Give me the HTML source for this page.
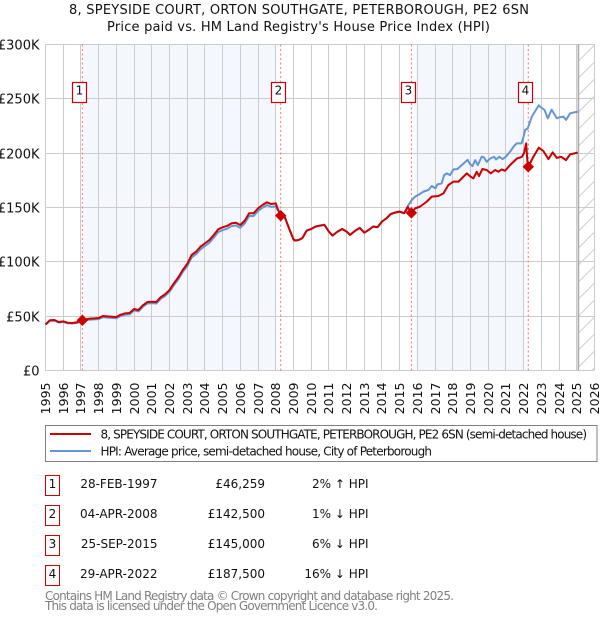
<!DOCTYPE html>
<html lang="en">
<head>
<meta charset="utf-8">
<title>Price paid vs. HPI</title>
<style>
html,body{margin:0;padding:0;background:#fff;width:600px;height:620px;overflow:hidden}
svg{display:block}
text{font-family:"DejaVu Sans","Liberation Sans",sans-serif;fill:#111}
</style>
</head>
<body>
<svg id="chart" xmlns="http://www.w3.org/2000/svg" width="600" height="620" viewBox="0 0 600 620">
<defs>
<pattern id="hatch" patternUnits="userSpaceOnUse" width="17" height="17" x="578" y="44.5">
<path d="M-2 19 L19 -2" stroke="#d0d0d0" stroke-width="1" fill="none"/>
</pattern>
</defs>
<text x="299" y="14" text-anchor="middle" font-size="13" textLength="460" lengthAdjust="spacing">8, SPEYSIDE COURT, ORTON SOUTHGATE, PETERBOROUGH, PE2 6SN</text>
<text x="298.5" y="31" text-anchor="middle" font-size="13" textLength="383" lengthAdjust="spacing">Price paid vs. HM Land Registry's House Price Index (HPI)</text>
<g id="plot"></g>
<g>
<rect x="45.5" y="425.5" width="551.5" height="36" fill="#fff" stroke="#808080" stroke-width="1"/>
<line x1="50" x2="91" y1="434" y2="434" stroke="#cc0000" stroke-width="2"/>
<text x="100.5" y="438.5" font-size="12" textLength="486.5" lengthAdjust="spacing">8, SPEYSIDE COURT, ORTON SOUTHGATE, PETERBOROUGH, PE2 6SN (semi-detached house)</text>
<line x1="50" x2="91" y1="451" y2="451" stroke="#6495d5" stroke-width="2"/>
<text x="100.5" y="455.5" font-size="12" textLength="331.5" lengthAdjust="spacing">HPI: Average price, semi-detached house, City of Peterborough</text>
</g>
<g font-size="12">
<g>
<rect x="45.5" y="475.5" width="14" height="20" fill="#fff" stroke="#cc0000"/>
<text x="52.5" y="488" text-anchor="middle">1</text>
<text x="157.5" y="488" text-anchor="end">28-FEB-1997</text>
<text x="265" y="488" text-anchor="end">£46,259</text>
<text x="368.5" y="488" text-anchor="end">2% ↑ HPI</text>
</g>
<g>
<rect x="45.5" y="505.5" width="14" height="20" fill="#fff" stroke="#cc0000"/>
<text x="52.5" y="518" text-anchor="middle">2</text>
<text x="157.5" y="518" text-anchor="end">04-APR-2008</text>
<text x="265" y="518" text-anchor="end">£142,500</text>
<text x="368.5" y="518" text-anchor="end">1% ↓ HPI</text>
</g>
<g>
<rect x="45.5" y="535.5" width="14" height="20" fill="#fff" stroke="#cc0000"/>
<text x="52.5" y="548" text-anchor="middle">3</text>
<text x="157.5" y="548" text-anchor="end">25-SEP-2015</text>
<text x="265" y="548" text-anchor="end">£145,000</text>
<text x="368.5" y="548" text-anchor="end">6% ↓ HPI</text>
</g>
<g>
<rect x="45.5" y="565.5" width="14" height="20" fill="#fff" stroke="#cc0000"/>
<text x="52.5" y="578" text-anchor="middle">4</text>
<text x="157.5" y="578" text-anchor="end">29-APR-2022</text>
<text x="265" y="578" text-anchor="end">£187,500</text>
<text x="368.5" y="578" text-anchor="end">16% ↓ HPI</text>
</g>
</g>
<text x="45" y="600" font-size="12" style="fill:#808080" textLength="409" lengthAdjust="spacing">Contains HM Land Registry data © Crown copyright and database right 2025.</text>
<text x="45" y="610" font-size="12" style="fill:#808080" textLength="333" lengthAdjust="spacing">This data is licensed under the Open Government Licence v3.0.</text>
</svg>
<script>
const yearTicks = [1995,1996,1997,1998,1999,2000,2001,2002,2003,2004,2005,2006,2007,2008,2009,2010,2011,2012,2013,2014,2015,2016,2017,2018,2019,2020,2021,2022,2023,2024,2025,2026];
const valueTicks = [0,50,100,150,200,250,300];
const valueTickLabels = ['£0','£50K','£100K','£150K','£200K','£250K','£300K'];
const saleYears = [1997.08,2008.28,2015.66,2022.26];
const salePrices = [46.259,142.5,145,187.5];
const saleLabels = ['1','2','3','4'];
const shadedSpans = [[1997.08,2008],[2016,2022]];
const paleSpans = [[2008,2008.28],[2015.66,2016],[2022,2022.26]];
const dataEndYear = 2025.09;
const priceYears = [1995,1995.25,1995.5,1995.75,1996,1996.25,1996.5,1996.75,1997.08,1997.25,1997.5,1997.75,1998,1998.25,1998.5,1998.75,1999,1999.25,1999.5,1999.75,2000,2000.25,2000.5,2000.75,2001,2001.25,2001.5,2001.75,2002,2002.25,2002.5,2002.75,2003,2003.25,2003.5,2003.75,2004,2004.25,2004.5,2004.75,2005,2005.25,2005.5,2005.75,2006,2006.25,2006.5,2006.75,2007,2007.25,2007.5,2007.75,2008,2008.1,2008.28,2008.5,2008.75,2009,2009.1,2009.3,2009.5,2009.75,2010,2010.25,2010.5,2010.75,2011,2011.2,2011.5,2011.75,2012,2012.2,2012.5,2012.75,2013,2013.25,2013.5,2013.75,2014,2014.25,2014.5,2014.75,2015,2015.25,2015.45,2015.66,2015.87,2016.15,2016.53,2016.81,2017.19,2017.47,2017.75,2018.03,2018.32,2018.79,2019.01,2019.16,2019.35,2019.48,2019.67,2019.91,2020.14,2020.39,2020.57,2020.76,2020.95,2021.23,2021.61,2021.89,2022.02,2022.14,2022.21,2022.26,2022.55,2022.85,2023.11,2023.4,2023.64,2023.87,2024.11,2024.39,2024.62,2025.05];
const priceValues = [42.5,46.2,46.5,44.6,45.2,44,43.7,44.3,46.26,47.1,47.7,48,48.3,50.2,49.8,49.5,49.2,51.4,52.6,52.9,56.6,55.7,60,63,63.3,63,67.3,70.1,74,80.2,85.7,92.5,98,106.3,109.3,113.9,117,120,124.7,129.9,131.8,133,135.4,136,133.9,137.9,144.7,144.7,149.2,152.3,154.8,153.2,153.8,149.2,142.5,141.6,130.8,120.7,119.5,120.1,121.7,128.7,130.2,132.4,133.3,133.9,127.8,124.1,127.8,130.2,127.8,124.7,128.7,131.1,126.8,129.3,132.4,131.8,137,140,144,145.3,146.2,144.7,150.6,145,149.2,150.8,155.4,160,160.6,163,170.7,173.8,173.8,181.4,178.3,176.8,182.9,178.9,185.4,184.5,181.4,184.5,182.9,185,183.8,189,195,196.5,200,209,193,187.5,196.7,205,202,194.6,200.8,195.6,196.7,193.6,198.9,200.5];
const hpiYears = [1995,1995.25,1995.5,1995.75,1996,1996.25,1996.5,1996.75,1997.08,1997.25,1997.5,1997.75,1998,1998.25,1998.5,1998.75,1999,1999.25,1999.5,1999.75,2000,2000.25,2000.5,2000.75,2001,2001.25,2001.5,2001.75,2002,2002.25,2002.5,2002.75,2003,2003.25,2003.5,2003.75,2004,2004.25,2004.5,2004.75,2005,2005.25,2005.5,2005.75,2006,2006.25,2006.5,2006.75,2007,2007.25,2007.5,2007.75,2008,2008.1,2008.28,2008.5,2008.75,2009,2009.1,2009.3,2009.5,2009.75,2010,2010.25,2010.5,2010.75,2011,2011.2,2011.5,2011.75,2012,2012.2,2012.5,2012.75,2013,2013.25,2013.5,2013.75,2014,2014.25,2014.5,2014.75,2015,2015.25,2015.36,2015.49,2015.72,2015.87,2016.11,2016.34,2016.62,2016.81,2017.02,2017.13,2017.37,2017.51,2017.66,2017.84,2018.03,2018.26,2018.5,2018.84,2018.97,2019.11,2019.26,2019.41,2019.63,2019.76,2019.91,2020.1,2020.33,2020.44,2020.63,2020.8,2020.99,2021.23,2021.46,2021.61,2021.89,2021.99,2022.08,2022.23,2022.46,2022.85,2023.02,2023.17,2023.36,2023.58,2023.87,2024.02,2024.24,2024.39,2024.62,2024.84,2025.05];
const hpiValues = [42,45.7,45.9,44.1,44.7,43.5,43.2,43.7,45.3,46.2,46.8,47.1,47.3,49.1,48.7,48.4,48.1,50.2,51.4,51.7,55.3,54.4,58.7,61.7,62,61.6,65.9,68.6,72.5,78.6,84,90.7,96,104,107,111.5,114.5,117.5,122.2,127.4,129.2,130.4,132.9,133.5,131.4,135.4,142.2,142.2,146.7,149.8,152.2,150.6,151.2,148,144,142,131,121,119.8,120.3,122,129,130.4,132.6,133.5,134.2,128,124.4,128,130.4,128,125,129,131.4,127,129.5,132.6,132,137.2,140.2,144.2,145.5,146.4,144.9,146.5,152.3,157.5,160,162.1,164.6,166.1,169.8,167.6,171.3,172.2,179.8,181.4,179.8,185,185.4,189,193.9,189.9,188.1,193.6,189,196.7,196,192,195,196.7,194.2,196.7,194.5,196.7,201.4,206.6,209,209,215,221.3,222.8,233.6,244,241.5,240,232.1,240,232.1,233,233.6,230.6,236.6,237.5,238.1];

const SVGNS = 'http://www.w3.org/2000/svg';
const plot = document.getElementById('plot');
const xLeft = 45.5, xPerYear = 17.71, yZero = 370.5, yPerK = 326 / 300;
const x = y => xLeft + (y - 1995) * xPerYear;
const y = v => yZero - v * yPerK;
const snap = p => Math.floor(p) + 0.5;
const yTop = y(300), xRight = x(2026);

function make(tag, attrs, parent) {
  const el = document.createElementNS(SVGNS, tag);
  for (const k in attrs) el.setAttribute(k, attrs[k]);
  (parent || plot).appendChild(el);
  return el;
}

shadedSpans.forEach(s => {
  const el = make('rect', {x: x(s[0]), y: yTop, width: x(s[1]) - x(s[0]), height: yZero - yTop, fill: '#f4f7fe'});
  
  
});
paleSpans.forEach(s => {
  const el = make('rect', {x: x(s[0]), y: yTop, width: x(s[1]) - x(s[0]), height: yZero - yTop, fill: '#f9fbff'});
  
  
});
const hatchRect = make('rect', {x: x(dataEndYear), y: yTop, width: xRight - x(dataEndYear), height: yZero - yTop, fill: 'url(#hatch)'});



yearTicks.forEach(t => {
  const g = make('line', {x1: snap(x(t)), x2: snap(x(t)), y1: yTop, y2: yZero, stroke: '#cccccc', 'stroke-width': 1});
  
  
  const l = make('text', {x: 0, y: 0, 'font-size': 12.5, 'text-anchor': 'end', transform: 'translate(' + (snap(x(t)) + 4.5) + ',382.5) rotate(-90)'});
  l.textContent = t;
  
  
});
valueTicks.forEach((t, i) => {
  const g = make('line', {x1: xLeft, x2: xRight, y1: snap(y(t)), y2: snap(y(t)), stroke: '#cccccc', 'stroke-width': 1});
  
  
  const l = make('text', {x: 39.5, y: snap(y(t)) + 5, 'font-size': 13, 'text-anchor': 'end'});
  l.textContent = valueTickLabels[i];
  
  
});

const endLine = make('line', {x1: x(dataEndYear), x2: x(dataEndYear), y1: yTop, y2: yZero, stroke: '#a8a8a8', 'stroke-width': 1.6});



saleYears.forEach(t => {
  const d = make('line', {x1: x(t), x2: x(t), y1: yTop, y2: yZero, stroke: '#ff7070', 'stroke-width': 1, 'stroke-dasharray': '2 2.5'});
  
  
});

function pathFrom(xs, vs) {
  return xs.map((t, i) => (i ? 'L' : 'M') + x(t).toFixed(2) + ' ' + y(vs[i]).toFixed(2)).join('');
}
const hpiLine = make('path', {d: pathFrom(hpiYears, hpiValues), fill: 'none', stroke: '#6495d5', 'stroke-width': 2, 'stroke-linejoin': 'round'});


const priceLine = make('path', {d: pathFrom(priceYears, priceValues), fill: 'none', stroke: '#cc0000', 'stroke-width': 2, 'stroke-linejoin': 'round'});



saleYears.forEach((t, i) => {
  const cx = x(t), cy = y(salePrices[i]);
  const m = make('path', {d: 'M' + cx + ' ' + (cy - 5) + 'L' + (cx + 5) + ' ' + cy + 'L' + cx + ' ' + (cy + 5) + 'L' + (cx - 5) + ' ' + cy + 'Z', fill: '#cc0000', stroke: '#cc0000', 'stroke-width': 1});
  
  
  const bx = Math.round(cx - 10) + 0.5;
  const b = make('rect', {x: bx, y: 82.5, width: 14, height: 20, fill: '#fff', stroke: '#cc0000', 'stroke-width': 1.2});
  
  
  const n = make('text', {x: bx + 7, y: 94.5, 'font-size': 12, 'text-anchor': 'middle'});
  n.textContent = saleLabels[i];
  
  
});
</script>
</body>
</html>
